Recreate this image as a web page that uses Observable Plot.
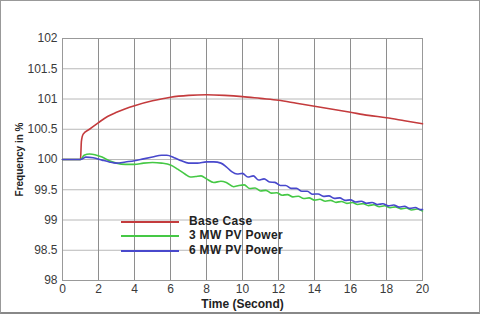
<!DOCTYPE html>
<html><head><meta charset="utf-8">
<script src="https://cdn.jsdelivr.net/npm/d3@7"></script>
<script src="https://cdn.jsdelivr.net/npm/@observablehq/plot@0.6"></script>
<style>
body{margin:0;background:#fff;}
#wrap{position:relative;width:480px;height:314px;overflow:hidden;font-family:"Liberation Sans",Arial,sans-serif;}
#wrap svg{position:absolute;left:0;top:0;}
#border{position:absolute;left:0;top:0;width:480px;height:314px;box-sizing:border-box;border:1px solid #999;border-bottom:2px solid #888;pointer-events:none;}
#legend{position:absolute;left:121px;top:214px;}
.lg{position:relative;height:14.3px;}
.lg .sw{position:absolute;left:0;top:7px;width:58px;height:2px;}
.lg .tx{position:absolute;left:68px;top:0;font-size:12px;font-weight:bold;letter-spacing:0.3px;color:#222;white-space:nowrap;line-height:15px;}
g[aria-label="y-axis label"] text{font-size:10px;font-weight:bold;fill:#222;}
g[aria-label="x-axis label"] text{font-size:12px;font-weight:bold;fill:#222;}
</style>
</head><body>
<div id="wrap"></div>
<script>
// Tick labels
const xTicks = [0,2,4,6,8,10,12,14,16,18,20];
const yTicks = [98,98.5,99,99.5,100,100.5,101,101.5,102];

// Series names and colours
const seriesNames = ["Base Case","3 MW PV Power","6 MW PV Power"];
const seriesColors = ["#c43b3d","#45c845","#4848cc"];

// Base Case (time s, frequency %)
const baseT = [0,1.0,1.05,1.15,1.5,2,2.5,3,3.5,4,5,6,7,8,9,10,11,12,13,14,15,16,17,18,19,20];
const baseV = [100,100,100.3,100.42,100.5,100.61,100.71,100.78,100.84,100.89,100.97,101.03,101.06,101.07,101.06,101.04,101.01,100.98,100.93,100.88,100.83,100.78,100.73,100.69,100.64,100.59];

// 3 MW PV Power
const pv3T = [0,1.0,1.2,1.5,1.8,2.2,2.6,3.0,3.5,4.0,4.5,5.0,5.5,6.0,6.4,6.8,7.1,7.4,7.7,8.0,8.4,8.8,9.1,9.5,9.8,10.1,10.4,10.7,11.0,11.3,11.6,11.9,12.2,12.5,12.8,13.1,13.4,13.7,14.0,14.3,14.6,14.9,15.2,15.5,15.8,16.1,16.4,16.7,17.0,17.3,17.6,17.9,18.2,18.5,18.8,19.1,19.4,19.7,20.0];
const pv3V = [100,100,100.07,100.09,100.08,100.04,99.98,99.94,99.92,99.92,99.94,99.95,99.94,99.91,99.84,99.76,99.71,99.72,99.73,99.68,99.62,99.64,99.62,99.55,99.57,99.58,99.52,99.53,99.48,99.49,99.445,99.45,99.41,99.42,99.382,99.393,99.355,99.366,99.328,99.343,99.31,99.325,99.292,99.307,99.274,99.289,99.256,99.271,99.238,99.253,99.22,99.235,99.202,99.217,99.184,99.199,99.166,99.181,99.15];

// 6 MW PV Power
const pv6T = [0,1.0,1.3,1.7,2.2,2.6,3.0,3.5,4.0,4.5,5.0,5.5,5.8,6.2,6.6,7.0,7.5,8.0,8.4,8.8,9.1,9.4,9.7,10.0,10.3,10.6,10.9,11.2,11.5,11.8,12.1,12.4,12.7,13.0,13.3,13.6,13.9,14.2,14.5,14.8,15.1,15.4,15.7,16.0,16.3,16.6,16.9,17.2,17.5,17.8,18.1,18.4,18.7,19.0,19.3,19.6,19.9,20.0];
const pv6V = [100,100,100.04,100.03,99.99,99.96,99.94,99.96,99.98,100.01,100.04,100.07,100.07,100.03,99.98,99.94,99.94,99.96,99.96,99.94,99.88,99.8,99.76,99.77,99.71,99.73,99.66,99.68,99.628,99.622,99.57,99.57,99.522,99.522,99.474,99.474,99.426,99.431,99.39,99.398,99.358,99.365,99.325,99.332,99.297,99.311,99.276,99.29,99.255,99.269,99.234,99.248,99.213,99.227,99.192,99.206,99.171,99.175];

const toRows = (T, V, s) => T.map((t, i) => ({t, v: V[i], s}));
const data = [
  ...toRows(baseT, baseV, seriesNames[0]),
  ...toRows(pv3T, pv3V, seriesNames[1]),
  ...toRows(pv6T, pv6V, seriesNames[2])
];

const chart = Plot.plot({
  width: 480, height: 314,
  marginLeft: 62, marginRight: 58, marginTop: 38, marginBottom: 34,
  style: {fontFamily: '"Liberation Sans", Arial, sans-serif', fontSize: "12px", color: "#3a3a3a", background: "transparent", overflow: "visible"},
  x: {domain: [0, 20], ticks: xTicks},
  y: {domain: [98, 102], ticks: yTicks},
  color: {domain: seriesNames, range: seriesColors},
  marks: [
    Plot.gridY(yTicks, {stroke: "#b8b8b8", strokeOpacity: 1, strokeWidth: 1}),
    Plot.gridX(xTicks, {stroke: "#8e8e8e", strokeOpacity: 1, strokeWidth: 1}),
    Plot.frame({stroke: "#999", strokeWidth: 1}),
    Plot.axisX(xTicks, {tickSize: 0, tickPadding: 4, tickFormat: d => String(d), label: "Time (Second)", labelAnchor: "center", labelArrow: "none", labelOffset: 27}),
    Plot.axisY(yTicks, {tickSize: 0, tickPadding: 5, tickFormat: d => String(d), label: "Frequency in %", labelAnchor: "center", labelArrow: "none", labelOffset: 47}),
    Plot.line(data, {x: "t", y: "v", z: "s", stroke: "s", strokeWidth: 1.6, curve: "monotone-x"})
  ]
});

const wrap = document.getElementById("wrap");
wrap.appendChild(chart);

// Legend overlay (inside plot area, as in reference)
const legend = document.createElement("div");
legend.id = "legend";
seriesNames.forEach((name, i) => {
  const row = document.createElement("div");
  row.className = "lg";
  const sw = document.createElement("div");
  sw.className = "sw"; sw.style.background = seriesColors[i];
  const tx = document.createElement("div");
  tx.className = "tx"; tx.textContent = name;
  row.appendChild(sw); row.appendChild(tx);
  legend.appendChild(row);
});
wrap.appendChild(legend);
const border = document.createElement("div");
border.id = "border";
wrap.appendChild(border);
</script>
</body></html>
